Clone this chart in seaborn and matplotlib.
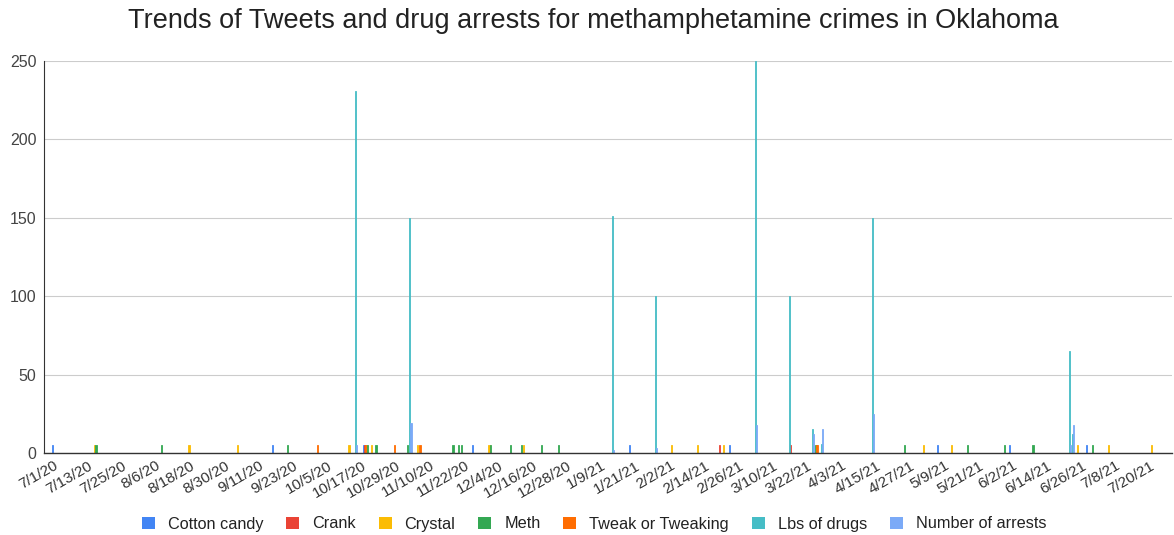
import matplotlib
matplotlib.use("Agg")
import matplotlib.pyplot as plt
from matplotlib.patches import Patch
import numpy as np
import pandas as pd
import seaborn as sns

# ---------------- data ----------------
title = "Trends of Tweets and drug arrests for methamphetamine crimes in Oklahoma"

series_names = ["Cotton candy", "Crank", "Crystal", "Meth", "Tweak or Tweaking",
                "Lbs of drugs", "Number of arrests"]
series_colors = ["#4285f4", "#ea4335", "#fbbc04", "#34a853", "#ff6d01",
                 "#46bdc6", "#7baaf7"]

cotton_candy_dates = ["2020-07-02", "2020-09-17", "2020-10-19", "2020-11-26", "2021-01-20",
                      "2021-02-24", "2021-05-08", "2021-06-02", "2021-06-29"]
cotton_candy_values = [5, 5, 5, 5, 5, 5, 5, 5, 5]

crank_dates = ["2020-10-19", "2021-02-20", "2021-03-17", "2021-03-26"]
crank_values = [5, 5, 5, 5]

crystal_dates = ["2020-07-16", "2020-08-18", "2020-09-04", "2020-10-13", "2020-10-19",
                 "2020-10-21", "2020-11-06", "2020-12-01", "2020-12-13", "2021-02-03",
                 "2021-02-12", "2021-02-21", "2021-05-02", "2021-05-12", "2021-06-25",
                 "2021-07-06", "2021-07-21"]
crystal_values = [5, 5, 5, 5, 5, 5, 5, 5, 5, 5, 5, 5, 5, 5, 5, 5, 5]

meth_dates = ["2020-07-16", "2020-08-08", "2020-09-21", "2020-10-19", "2020-10-22",
              "2020-11-02", "2020-11-18", "2020-11-20", "2020-11-21", "2020-12-01",
              "2020-12-08", "2020-12-12", "2020-12-19", "2020-12-25", "2021-03-25",
              "2021-04-25", "2021-05-17", "2021-05-30", "2021-06-09", "2021-06-30"]
meth_values = [5, 5, 5, 5, 5, 5, 5, 5, 5, 5, 5, 5, 5, 5, 5, 5, 5, 5, 5, 5]

tweak_dates = ["2020-10-01", "2020-10-18", "2020-10-28", "2020-11-06", "2021-03-25"]
tweak_values = [5, 5, 5, 5, 5]

lbs_dates = ["2020-10-14", "2020-11-02", "2021-01-12", "2021-01-27", "2021-03-03",
             "2021-03-15", "2021-03-23", "2021-03-26", "2021-04-13", "2021-06-21",
             "2021-06-22"]
lbs_values = [231, 150, 151, 100, 250, 100, 15, 6, 150, 65, 12]

arrests_dates = ["2020-10-14", "2020-11-02", "2021-01-12", "2021-01-27", "2021-03-03",
                 "2021-03-23", "2021-03-26", "2021-04-13", "2021-06-21", "2021-06-22"]
arrests_values = [5, 19, 2, 3, 18, 12, 15, 25, 5, 18]

tick_labels = ["7/1/20", "7/13/20", "7/25/20", "8/6/20", "8/18/20", "8/30/20", "9/11/20",
               "9/23/20", "10/5/20", "10/17/20", "10/29/20", "11/10/20", "11/22/20",
               "12/4/20", "12/16/20", "12/28/20", "1/9/21", "1/21/21", "2/2/21", "2/14/21",
               "2/26/21", "3/10/21", "3/22/21", "4/3/21", "4/15/21", "4/27/21", "5/9/21",
               "5/21/21", "6/2/21", "6/14/21", "6/26/21", "7/8/21", "7/20/21"]
y_ticks = [0, 50, 100, 150, 200, 250]

# ---------------- build table ----------------
series_data = [
    (cotton_candy_dates, cotton_candy_values),
    (crank_dates, crank_values),
    (crystal_dates, crystal_values),
    (meth_dates, meth_values),
    (tweak_dates, tweak_values),
    (lbs_dates, lbs_values),
    (arrests_dates, arrests_values),
]
origin = pd.Timestamp("2020-07-01")
frames = []
for name, (dates, vals) in zip(series_names, series_data):
    d = pd.to_datetime(pd.Series(dates))
    frames.append(pd.DataFrame({"day": (d - origin).dt.days.astype(float),
                                "value": vals, "series": name}))
df = pd.concat(frames, ignore_index=True)

tick_pos = [(pd.to_datetime(t, format="%m/%d/%y") - origin).days for t in tick_labels]

# ---------------- plot ----------------
sns.set_theme(style="white")
plt.rcParams["font.family"] = ["Liberation Sans", "DejaVu Sans"]

W, H = 1174, 535
fig = plt.figure(figsize=(W / 100, H / 100), dpi=100)
ax = fig.add_axes([43.5 / W, 1 - 453 / H, (1172 - 43.5) / W, (453 - 61) / H])

sns.barplot(data=df, x="day", y="value", hue="series", hue_order=series_names,
            palette=series_colors, native_scale=True, dodge=True, width=3.0,
            errorbar=None, linewidth=0, edgecolor="none", saturation=1,
            legend=False, ax=ax)
# give the hair-thin bars a solid outline in their own colour so they render crisply
for p in ax.patches:
    p.set_edgecolor(p.get_facecolor())
    p.set_linewidth(0.6)

ax.set_xlim(-3.4, 391.7)
ax.set_ylim(0, 250)
ax.set_yticks(y_ticks)
ax.set_yticklabels([str(v) for v in y_ticks], fontsize=11.5, color="#444444")
ax.set_xticks(tick_pos)
ax.set_xticklabels(tick_labels, rotation=30, ha="right", rotation_mode="anchor",
                   fontsize=11, color="#333333")
ax.tick_params(axis="both", length=0)
ax.tick_params(axis="y", pad=5)
ax.tick_params(axis="x", pad=4)
ax.set_xlabel("")
ax.set_ylabel("")

ax.yaxis.grid(True, color="#cccccc", linewidth=0.8)
ax.xaxis.grid(False)
ax.set_axisbelow(True)
for s in ["top", "right"]:
    ax.spines[s].set_visible(False)
ax.spines["bottom"].set_color("#333333")
ax.spines["bottom"].set_linewidth(1.0)
ax.spines["left"].set_color("#333333")
ax.spines["left"].set_linewidth(0.8)

fig.text(593 / W, 1 - 21 / H, title, ha="center", va="center",
         fontsize=19.5, color="#222222")

handles = [Patch(facecolor=c, edgecolor="none") for c in series_colors]
fig.legend(handles, series_names, loc="center", bbox_to_anchor=(594 / W, 1 - 524 / H),
           ncol=7, frameon=False, fontsize=11.7, handlelength=0.8, handleheight=0.8,
           handletextpad=0.8, columnspacing=1.4, labelcolor="#222222")

fig.savefig("out.png", dpi=100)
